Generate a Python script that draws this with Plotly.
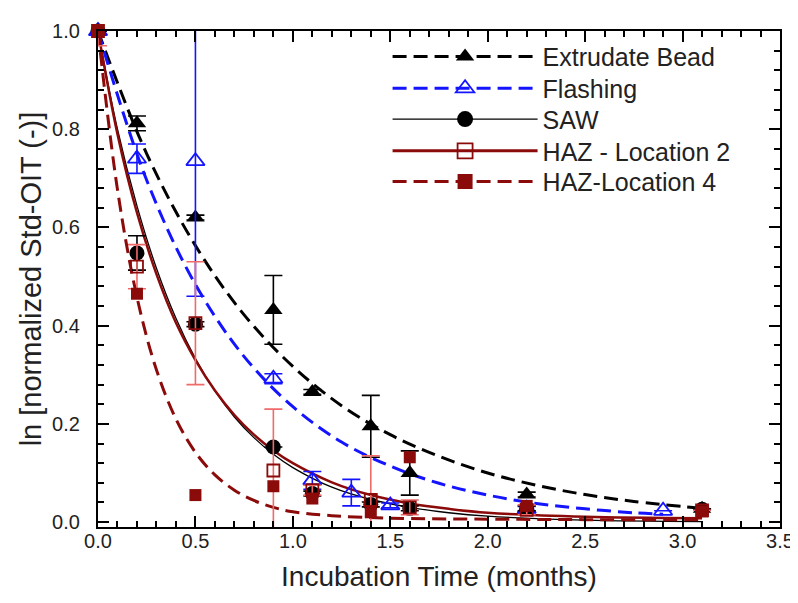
import plotly.graph_objects as go

# ---------------- data ----------------
x_bead = [0.0, 0.2, 0.5, 0.9, 1.1, 1.4, 1.6, 2.2, 3.1]
y_bead = [1.0, 0.812, 0.620, 0.432, 0.265, 0.195, 0.100, 0.056, 0.027]
e_bead = [0.0, 0.015, 0.005, 0.07, 0.005, 0.063, 0.045, 0.005, 0.0]

x_flash = [0.0, 0.2, 0.5, 0.9, 1.1, 1.3, 1.5, 2.2, 2.9]
y_flash = [1.0, 0.740, 0.735, 0.292, 0.085, 0.060, 0.034, 0.027, 0.023]
e_flash = [0.0, 0.030, 0.275, 0.010, 0.018, 0.027, 0.005, 0.005, 0.0]

x_saw = [0.0, 0.2, 0.5, 0.9, 1.1, 1.4, 1.6, 2.2, 3.1]
y_saw = [1.0, 0.548, 0.403, 0.153, 0.058, 0.036, 0.028, 0.028, 0.026]
e_saw = [0.0, 0.035, 0.005, 0.0, 0.005, 0.005, 0.005, 0.005, 0.0]

x_haz2 = [0.0, 0.2, 0.5, 0.9, 1.1, 1.4, 1.6, 2.2, 3.1]
y_haz2 = [1.0, 0.520, 0.405, 0.105, 0.065, 0.045, 0.030, 0.025, 0.024]
e_haz2 = [0.03, 0.045, 0.125, 0.125, 0.010, 0.090, 0.015, 0.010, 0.0]

x_haz4 = [0.0, 0.2, 0.5, 0.9, 1.1, 1.4, 1.6, 2.2, 3.1]
y_haz4 = [1.0, 0.465, 0.055, 0.073, 0.048, 0.020, 0.132, 0.033, 0.022]

# fitted curves
fx_bead = [0.0, 0.25, 0.5, 0.75, 1.0, 1.25, 1.5, 1.75, 2.0, 2.25, 2.5, 2.75, 3.1]
fy_bead = [1.0, 0.75, 0.563, 0.422, 0.317, 0.237, 0.178, 0.134, 0.100, 0.075, 0.056, 0.042, 0.028]

fx_flash = [0.0, 0.25, 0.5, 0.75, 1.0, 1.25, 1.5, 1.75, 2.0, 2.25, 2.5, 2.75, 2.9]
fy_flash = [1.0, 0.696, 0.484, 0.337, 0.235, 0.163, 0.114, 0.079, 0.055, 0.038, 0.027, 0.019, 0.016]

fx_saw = [0.0, 0.1, 0.2, 0.3, 0.4, 0.5, 0.6, 0.7, 0.8, 0.9, 1.0, 1.2, 1.4, 1.6, 1.8, 2.0, 2.5, 3.1]
fy_saw = [1.0, 0.80, 0.644, 0.517, 0.415, 0.333, 0.267, 0.214, 0.172, 0.138, 0.111, 0.071, 0.046, 0.030, 0.019, 0.012, 0.004, 0.001]

fx_haz2 = [0.0, 0.1, 0.2, 0.3, 0.4, 0.5, 0.6, 0.7, 0.8, 0.9, 1.0, 1.2, 1.4, 1.6, 1.8, 2.0, 2.5, 3.1]
fy_haz2 = [1.0, 0.79, 0.630, 0.505, 0.406, 0.330, 0.268, 0.218, 0.178, 0.146, 0.120, 0.081, 0.055, 0.038, 0.027, 0.019, 0.011, 0.008]

fx_haz4 = [0.0, 0.1, 0.2, 0.3, 0.4, 0.5, 0.6, 0.7, 0.8, 0.9, 1.0, 1.2, 1.5, 2.0, 2.5, 3.1]
fy_haz4 = [1.0, 0.677, 0.458, 0.310, 0.210, 0.142, 0.096, 0.065, 0.044, 0.030, 0.021, 0.013, 0.008, 0.006, 0.005, 0.005]

names = ["Extrudate Bead", "Flashing", "SAW", "HAZ - Location 2", "HAZ-Location 4"]
x_ticks = [0.0, 0.5, 1.0, 1.5, 2.0, 2.5, 3.0, 3.5]
y_ticks = [0.0, 0.2, 0.4, 0.6, 0.8, 1.0]

BLACK = "#000000"
BLUE = "#1414ff"
DRED = "#8b0a0a"
LRED = "#f06a6a"
DASH = "14px,7px"

fig = go.Figure()

# fit lines
fig.add_trace(go.Scatter(x=fx_bead, y=fy_bead, mode="lines", line=dict(color=BLACK, width=3, dash=DASH, shape="spline"), showlegend=False, hoverinfo="skip"))
fig.add_trace(go.Scatter(x=fx_flash, y=fy_flash, mode="lines", line=dict(color=BLUE, width=3, dash=DASH, shape="spline"), showlegend=False, hoverinfo="skip"))
fig.add_trace(go.Scatter(x=fx_saw, y=fy_saw, mode="lines", line=dict(color=BLACK, width=1.3, shape="spline"), showlegend=False, hoverinfo="skip"))
fig.add_trace(go.Scatter(x=fx_haz2, y=fy_haz2, mode="lines", line=dict(color=DRED, width=2.5, shape="spline"), showlegend=False, hoverinfo="skip"))
fig.add_trace(go.Scatter(x=fx_haz4, y=fy_haz4, mode="lines", line=dict(color=DRED, width=3, dash=DASH, shape="spline"), showlegend=False, hoverinfo="skip"))

# data points
fig.add_trace(go.Scatter(x=x_bead, y=y_bead, mode="markers", cliponaxis=False, showlegend=False,
                         marker=dict(symbol="triangle-up", size=16, color=BLACK),
                         error_y=dict(type="data", array=e_bead, color=BLACK, thickness=1.6, width=9)))
fig.add_trace(go.Scatter(x=x_flash, y=y_flash, mode="markers", cliponaxis=False, showlegend=False,
                         marker=dict(symbol="triangle-up-open", size=16, color=BLUE, line=dict(width=1.8)),
                         error_y=dict(type="data", array=e_flash, color=BLUE, thickness=1.6, width=9)))
fig.add_trace(go.Scatter(x=x_saw, y=y_saw, mode="markers", cliponaxis=False, showlegend=False,
                         marker=dict(symbol="circle", size=15, color=BLACK),
                         error_y=dict(type="data", array=e_saw, color=BLACK, thickness=1.6, width=9)))
fig.add_trace(go.Scatter(x=x_haz2, y=y_haz2, mode="markers", cliponaxis=False, showlegend=False,
                         marker=dict(symbol="square-open", size=12, color=DRED, line=dict(width=1.8)),
                         error_y=dict(type="data", array=e_haz2, color=LRED, thickness=1.6, width=9)))
fig.add_trace(go.Scatter(x=x_haz4, y=y_haz4, mode="markers", cliponaxis=False, showlegend=False,
                         marker=dict(symbol="square", size=12, color=DRED)))

FONT = "Arial, Liberation Sans, sans-serif"

# legend entries: one small legend per row so the row spacing can follow the reference
leg_styles = [
    (dict(color=BLACK, width=3, dash=DASH), dict(symbol="triangle-up", size=17, color=BLACK)),
    (dict(color=BLUE, width=3, dash=DASH), dict(symbol="triangle-up-open", size=17, color=BLUE, line=dict(width=1.8))),
    (dict(color=BLACK, width=1.3), dict(symbol="circle", size=17, color=BLACK)),
    (dict(color=DRED, width=3), dict(symbol="square-open", size=15, color=DRED, line=dict(width=1.8))),
    (dict(color=DRED, width=3, dash=DASH), dict(symbol="square", size=15, color=DRED)),
]
row_y = [0.948, 0.884, 0.822, 0.758, 0.696]
legend_layouts = {}
for i, (nm, (ln, mk)) in enumerate(zip(names, leg_styles)):
    lname = "legend" if i == 0 else f"legend{i + 1}"
    fig.add_trace(go.Scatter(x=[None], y=[None], mode="lines+markers", name=nm, line=ln, marker=mk,
                             legend=lname))
    legend_layouts[lname] = dict(x=0.4246, y=row_y[i], xanchor="left", yanchor="middle",
                                 bgcolor="rgba(0,0,0,0)",
                                 font=dict(family=FONT, size=25, color="#222"), itemwidth=145)

axis_common = dict(
    showline=True, linecolor=BLACK, linewidth=2.2, mirror="allticks",
    ticks="inside", ticklen=11, tickwidth=2, tickcolor=BLACK,
    showgrid=False, zeroline=False,
    tickfont=dict(family=FONT, size=20, color="#222"),
)

fig.update_layout(
    width=798, height=603,
    margin=dict(l=90, r=18, t=19, b=84),
    paper_bgcolor="white", plot_bgcolor="white",
    font=dict(family=FONT, color="#222"),
    xaxis=dict(range=[0, 3.5], tickvals=x_ticks, tickformat=".1f",
               minor=dict(dtick=0.1, ticks="inside", ticklen=6, tickwidth=1.5, tickcolor=BLACK),
               title=dict(text="Incubation Time (months)", font=dict(family=FONT, size=28, color="#222"), standoff=15),
               ticklabelstandoff=-5,
               **axis_common),
    yaxis=dict(range=[-0.01, 1.0], tickvals=y_ticks, tickformat=".1f",
               minor=dict(dtick=0.04, ticks="inside", ticklen=6, tickwidth=1.5, tickcolor=BLACK),
               title=dict(text="ln [normalized Std-OIT (-)]", font=dict(family=FONT, size=29, color="#222"), standoff=2),
               ticklabelstandoff=12,
               **axis_common),
    **legend_layouts,
)

fig.write_html("out.html")
